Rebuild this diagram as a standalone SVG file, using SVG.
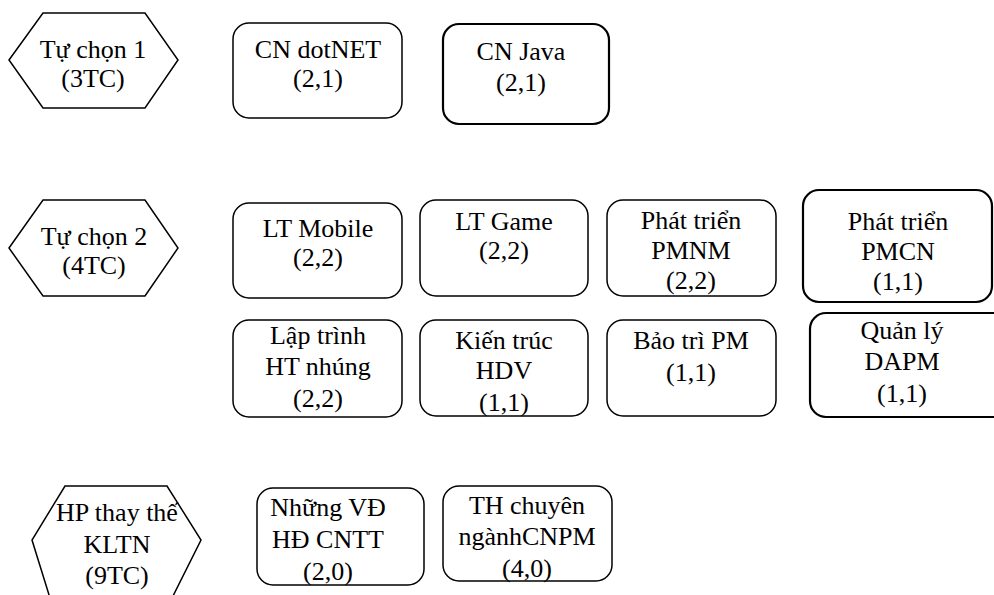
<svg xmlns="http://www.w3.org/2000/svg" width="994" height="595" viewBox="0 0 994 595">
<style>
.box{fill:#fff;stroke:#000;stroke-width:1.5}
.thick{stroke-width:2.2}
.hex{fill:#fff;stroke:#000;stroke-width:1.5}
.t{font-family:'Liberation Serif','Times New Roman','DejaVu Serif',serif;font-size:26px;fill:#000;text-anchor:middle}
</style>
<rect width="994" height="595" fill="#fff"/>
<g id="connectors"></g>
<g class="t" font-family="Liberation Serif, Times New Roman, serif">
<g id="tuchon1">
<polygon class="hex" points="9,60 43,13 145,13 178,60 145,108 43,108"/>
<text x="93" y="58">Tự chọn 1</text>
<text x="93" y="87">(3TC)</text>
</g>
<g id="dotnet">
<rect class="box" x="233" y="23" width="169" height="95" rx="16"/>
<text x="318" y="58">CN dotNET</text>
<text x="318" y="87">(2,1)</text>
</g>
<g id="java">
<rect class="box thick" x="443" y="24" width="166" height="100" rx="16"/>
<text x="521" y="60">CN Java</text>
<text x="521" y="91">(2,1)</text>
</g>
<g id="tuchon2">
<polygon class="hex" points="9,248 43,200 145,200 178,248 145,296 43,296"/>
<text x="94" y="245">Tự chọn 2</text>
<text x="94" y="274">(4TC)</text>
</g>
<g id="mobile">
<rect class="box" x="233" y="203" width="169" height="95" rx="16"/>
<text x="318" y="237">LT Mobile</text>
<text x="318" y="266">(2,2)</text>
</g>
<g id="game">
<rect class="box" x="420" y="200" width="168" height="96" rx="16"/>
<text x="504" y="230">LT Game</text>
<text x="504" y="259">(2,2)</text>
</g>
<g id="pmnm">
<rect class="box" x="607" y="200" width="169" height="96" rx="16"/>
<text x="691" y="229">Phát triển</text>
<text x="691" y="259">PMNM</text>
<text x="691" y="289">(2,2)</text>
</g>
<g id="pmcn">
<rect class="box thick" x="803" y="190" width="189" height="112" rx="16"/>
<text x="898" y="230">Phát triển</text>
<text x="898" y="260">PMCN</text>
<text x="898" y="290">(1,1)</text>
</g>
<g id="laptrinh">
<rect class="box" x="233" y="320" width="169" height="97" rx="16"/>
<text x="318" y="344">Lập trình</text>
<text x="318" y="375">HT nhúng</text>
<text x="318" y="407">(2,2)</text>
</g>
<g id="kientruc">
<rect class="box" x="420" y="320" width="168" height="96" rx="16"/>
<text x="504" y="349">Kiến trúc</text>
<text x="504" y="379">HDV</text>
<text x="504" y="411">(1,1)</text>
</g>
<g id="baotri">
<rect class="box" x="607" y="320" width="169" height="96" rx="16"/>
<text x="691" y="349">Bảo trì PM</text>
<text x="691" y="381">(1,1)</text>
</g>
<g id="quanly">
<rect class="box thick" x="810" y="313" width="200" height="104" rx="16"/>
<text x="902" y="339">Quản lý</text>
<text x="902" y="370">DAPM</text>
<text x="902" y="402">(1,1)</text>
</g>
<g id="hpthaythe">
<polygon class="hex" points="50,598 32,540 65,486 167,486 201,540 172,598"/>
<text x="117" y="521">HP thay thế</text>
<text x="117" y="553">KLTN</text>
<text x="117" y="584">(9TC)</text>
</g>
<g id="nhungvd">
<rect class="box" x="257" y="488" width="167" height="97" rx="16"/>
<text x="328" y="516">Những VĐ</text>
<text x="328" y="548">HĐ CNTT</text>
<text x="328" y="580">(2,0)</text>
</g>
<g id="thchuyen">
<rect class="box" x="443" y="486" width="169" height="95" rx="16"/>
<text x="527" y="514">TH chuyên</text>
<text x="527" y="545">ngànhCNPM</text>
<text x="527" y="577">(4,0)</text>
</g>
</g>
</svg>
